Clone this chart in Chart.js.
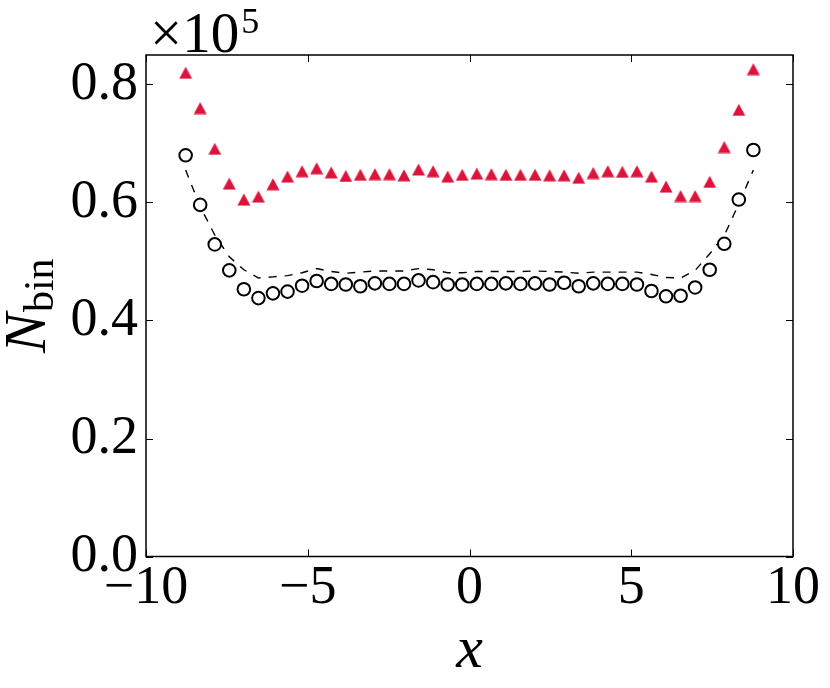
<!DOCTYPE html>
<html>
<head>
<meta charset="utf-8">
<script src="https://cdn.jsdelivr.net/npm/chart.js@4.4.1/dist/chart.umd.min.js"></script>
<style>
  html, body { margin: 0; padding: 0; background: #ffffff; }
  #wrap { width: 830px; height: 688px; }
</style>
</head>
<body>
<div id="wrap"><canvas id="c" width="830" height="688"></canvas></div>
<script>
// ---------------- data ----------------
const xCenters = [-8.775, -8.325, -7.875, -7.425, -6.975, -6.525, -6.075, -5.625, -5.175, -4.725,
                  -4.275, -3.825, -3.375, -2.925, -2.475, -2.025, -1.575, -1.125, -0.675, -0.225,
                   0.225,  0.675,  1.125,  1.575,  2.025,  2.475,  2.925,  3.375,  3.825,  4.275,
                   4.725,  5.175,  5.625,  6.075,  6.525,  6.975,  7.425,  7.875,  8.325,  8.775];
const triangleValues = [0.820, 0.760, 0.691, 0.632, 0.605, 0.610, 0.631, 0.644, 0.653, 0.658,
                        0.651, 0.645, 0.647, 0.648, 0.648, 0.646, 0.656, 0.653, 0.644, 0.647,
                        0.649, 0.648, 0.647, 0.647, 0.647, 0.646, 0.646, 0.642, 0.650, 0.653,
                        0.652, 0.653, 0.644, 0.627, 0.611, 0.611, 0.635, 0.694, 0.757, 0.826];
const circleValues = [0.680, 0.596, 0.529, 0.485, 0.453, 0.438, 0.446, 0.449, 0.459, 0.467,
                      0.462, 0.461, 0.458, 0.463, 0.462, 0.462, 0.468, 0.465, 0.461, 0.461,
                      0.462, 0.462, 0.463, 0.462, 0.463, 0.461, 0.464, 0.458, 0.463, 0.462,
                      0.462, 0.461, 0.450, 0.441, 0.442, 0.456, 0.486, 0.530, 0.605, 0.689];
const dashedValues = [0.655, 0.593, 0.545, 0.508, 0.486, 0.472, 0.474, 0.476, 0.481, 0.488,
                      0.483, 0.480, 0.482, 0.484, 0.484, 0.484, 0.488, 0.486, 0.481, 0.481,
                      0.483, 0.483, 0.483, 0.483, 0.484, 0.483, 0.482, 0.480, 0.482, 0.482,
                      0.482, 0.482, 0.478, 0.473, 0.472, 0.485, 0.513, 0.544, 0.598, 0.655];
const xTicks = [-10, -5, 0, 5, 10];
const yTicks = [0.0, 0.2, 0.4, 0.6, 0.8];
const xRange = [-10, 10];
const yRange = [0, 0.85];
const xTitle = 'x';
const yTitleMain = 'N';
const yTitleSub = 'bin';
const offsetBase = '×10';
const offsetExp = '5';

// ---------------- styles ----------------
const FONT = "'Liberation Serif', 'DejaVu Serif', serif";
const RED = '#DC143C';

function toPts(xs, ys) { return xs.map((x, i) => ({ x: x, y: ys[i] })); }

// triangle marker centred on its bounding box (like matplotlib '^')
const tri = document.createElement('canvas');
tri.width = 14; tri.height = 13;
(function () {
  const g = tri.getContext('2d');
  g.fillStyle = RED;
  g.beginPath();
  g.moveTo(7, 0.5);
  g.lineTo(13.5, 12.5);
  g.lineTo(0.5, 12.5);
  g.closePath();
  g.fill();
})();

const framePlugin = {
  id: 'frame',
  afterDatasetsDraw(chart) {
    const { ctx, chartArea: a } = chart;
    const xs = chart.scales.x, ys = chart.scales.y;
    ctx.save();
    ctx.strokeStyle = '#000';
    ctx.lineWidth = 1;
    const tl = 7;
    ctx.beginPath();
    xTicks.forEach(v => {
      const px = Math.round(xs.getPixelForValue(v)) + 0.5;
      ctx.moveTo(px, a.bottom); ctx.lineTo(px, a.bottom - tl);
      ctx.moveTo(px, a.top); ctx.lineTo(px, a.top + tl);
    });
    yTicks.forEach(v => {
      const py = Math.round(ys.getPixelForValue(v)) + 0.5;
      ctx.moveTo(a.left, py); ctx.lineTo(a.left + tl, py);
      ctx.moveTo(a.right, py); ctx.lineTo(a.right - tl, py);
    });
    ctx.stroke();
    ctx.lineWidth = 1.5;
    ctx.strokeRect(a.left, a.top, a.right - a.left, a.bottom - a.top);
    ctx.restore();
  },
  afterDraw(chart) {
    const { ctx, chartArea: a } = chart;
    ctx.save();
    ctx.fillStyle = '#000';
    ctx.textBaseline = 'alphabetic';
    // x title
    ctx.font = 'italic 60px ' + FONT;
    ctx.textAlign = 'center';
    ctx.fillText(xTitle, (a.left + a.right) / 2, 667);
    // y title (rotated)
    ctx.textAlign = 'left';
    ctx.font = 'italic 60px ' + FONT;
    const wN = ctx.measureText(yTitleMain).width;
    ctx.font = '42px ' + FONT;
    const wS = ctx.measureText(yTitleSub).width;
    const total = wN + 1 + wS;
    ctx.translate(45, (a.top + a.bottom) / 2 + total / 2);
    ctx.rotate(-Math.PI / 2);
    ctx.font = 'italic 60px ' + FONT;
    ctx.fillText(yTitleMain, 0, 0);
    ctx.font = '42px ' + FONT;
    ctx.fillText(yTitleSub, wN + 1, 8);
    ctx.setTransform(1, 0, 0, 1, 0, 0);
    // offset text ×10^5
    ctx.font = '57px ' + FONT;
    ctx.fillText(offsetBase, a.left + 4, a.top - 3);
    const wB = ctx.measureText(offsetBase).width;
    ctx.font = '36px ' + FONT;
    ctx.fillText(offsetExp, a.left + 4 + wB + 2, a.top - 22);
    ctx.restore();
  }
};

new Chart(document.getElementById('c'), {
  type: 'scatter',
  data: {
    datasets: [
      {
        label: 'circles',
        data: toPts(xCenters, circleValues),
        pointStyle: 'circle',
        pointRadius: 6.3,
        borderWidth: 2,
        borderColor: '#000',
        backgroundColor: '#fff',
        showLine: false,
        order: 1
      },
      {
        label: 'triangles',
        data: toPts(xCenters, triangleValues),
        pointStyle: tri,
        pointRadius: 6,
        showLine: false,
        order: 1
      },
      {
        label: 'dashed',
        data: toPts(xCenters, dashedValues),
        showLine: true,
        pointRadius: 0,
        borderColor: '#000',
        borderWidth: 1.4,
        borderDash: [8, 8],
        fill: false,
        tension: 0,
        order: 2
      }
    ]
  },
  options: {
    responsive: false,
    animation: false,
    devicePixelRatio: 1,
    layout: { padding: { left: 0, top: 55, right: 37, bottom: 0 } },
    plugins: { legend: { display: false }, tooltip: { enabled: false } },
    scales: {
      x: {
        type: 'linear',
        min: xRange[0], max: xRange[1],
        grid: { display: false, drawTicks: false },
        border: { display: false },
        afterBuildTicks(s) { s.ticks = xTicks.map(v => ({ value: v })); },
        afterFit(s) { s.height = 131.5; },
        ticks: {
          font: { family: FONT, size: 54 },
          color: '#000',
          padding: 0,
          maxRotation: 0,
          autoSkip: false,
          callback: v => String(v).replace('-', '\u2212')
        }
      },
      y: {
        type: 'linear',
        min: yRange[0], max: yRange[1],
        grid: { display: false, drawTicks: false },
        border: { display: false },
        afterBuildTicks(s) { s.ticks = yTicks.map(v => ({ value: v })); },
        afterFit(s) { s.width = 146; },
        ticks: {
          font: { family: FONT, size: 54 },
          color: '#000',
          padding: 8,
          autoSkip: false,
          callback: v => Number(v).toFixed(1)
        }
      }
    }
  },
  plugins: [framePlugin]
});
</script>
</body>
</html>
